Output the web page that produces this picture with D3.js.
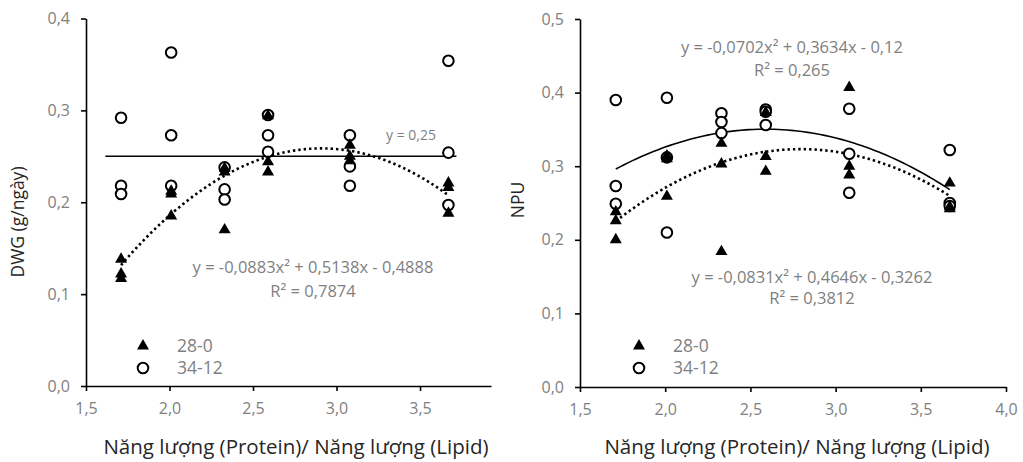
<!DOCTYPE html>
<html>
<head>
<meta charset="utf-8">
<script src="https://cdn.jsdelivr.net/npm/d3@7"></script>
<style>
  html, body { margin: 0; padding: 0; background: #fff; }
  svg { display: block; font-family: "Open Sans", Lato, sans-serif; }
</style>
</head>
<body>
<svg id="chart" width="1023" height="462"></svg>
<script>
// ---- data ----
const groups = [1.71, 2.01, 2.33, 2.59, 3.08, 3.67];   // Năng lượng (Protein)/ Năng lượng (Lipid)
const seriesNames = ["28-0", "34-12"];

// DWG (g/ngày), 3 replicates per group
const dwg28 = [[0.138, 0.122, 0.117], [0.212, 0.209, 0.185], [0.237, 0.233, 0.170],
               [0.294, 0.244, 0.233], [0.262, 0.250, 0.245], [0.221, 0.216, 0.188]];
const dwg34 = [[0.292, 0.218, 0.209], [0.363, 0.273, 0.218], [0.238, 0.214, 0.203],
               [0.295, 0.273, 0.255], [0.273, 0.239, 0.218], [0.354, 0.254, 0.197]];

// NPU
const npu28 = [[0.238, 0.226, 0.200], [0.314, 0.310, 0.259], [0.331, 0.303, 0.184],
               [0.373, 0.313, 0.293], [0.407, 0.300, 0.288], [0.277, 0.245, 0.242]];
const npu34 = [[0.390, 0.273, 0.249], [0.393, 0.312, 0.210], [0.372, 0.360, 0.345],
               [0.377, 0.374, 0.356], [0.378, 0.317, 0.264], [0.322, 0.250, 0.246]];

// trendlines (coefficients a,b,c of y = a x^2 + b x + c as printed on the chart)
const dwgFit28 = [-0.0883, 0.5138, -0.4888];
const dwgFit34 = [0, 0, 0.25];
const npuFit28 = [-0.0831, 0.4646, -0.3262];
const npuFit34 = [-0.0702, 0.3634, -0.12];

const dwgLabels = ["y = -0,0883x\u00b2 + 0,5138x - 0,4888", "R\u00b2 = 0,7874"];
const npuLabels28 = ["y = -0,0831x\u00b2 + 0,4646x - 0,3262", "R\u00b2 = 0,3812"];
const npuLabels34 = ["y = -0,0702x\u00b2 + 0,3634x - 0,12", "R\u00b2 = 0,265"];

const dwgTicks = [0, 0.1, 0.2, 0.3, 0.4];
const npuTicks = [0, 0.1, 0.2, 0.3, 0.4, 0.5];
const xTicksLeft = [1.5, 2.0, 2.5, 3.0, 3.5];
const xTicksRight = [1.5, 2.0, 2.5, 3.0, 3.5, 4.0];

const xTitle = "Năng lượng (Protein)/ Năng lượng (Lipid)";

// ---- helpers ----
const fmt = v => d3.format(".1f")(v).replace(".", ",");
const flat = arr => arr.flatMap((vals, i) => vals.map(v => ({ x: groups[i], y: v })));
const poly = c => x => c[0]*x*x + c[1]*x + c[2];
const triPath = a => { const h = Math.sqrt(3)/2*a; return `M0,${-2*h/3}L${-a/2},${h/3}L${a/2},${h/3}Z`; };

const svg = d3.select("#chart");

function panel(o) {
  const x = d3.scaleLinear().domain(o.xDomain).range(o.xRange);
  const y = d3.scaleLinear().domain(o.yDomain).range(o.yRange);
  const g = svg.append("g");

  // axes
  const ax = g.append("g").attr("transform", `translate(0,${o.yRange[0]})`)
    .call(d3.axisBottom(x).tickValues(o.xTicks).tickFormat(fmt).tickSize(5).tickSizeOuter(0).tickPadding(12));
  const ay = g.append("g").attr("transform", `translate(${o.xRange[0]},0)`)
    .call(d3.axisLeft(y).tickValues(o.yTicks).tickFormat(fmt).tickSize(5).tickSizeOuter(0).tickPadding(11));
  [ax, ay].forEach(a => {
    a.selectAll("path,line").attr("stroke", "#000").attr("stroke-width", 1.6);
    a.selectAll("text").attr("fill", "#7f7f7f").style("font-size", "16px").style("font-family", "'Open Sans'");
  });

  // axis titles
  g.append("text").attr("x", o.titleX).attr("y", 447).attr("dy", "0.35em")
    .attr("text-anchor", "middle").attr("fill", "#262626").style("font-size", "20.5px").text(xTitle);
  g.append("text").attr("transform", `translate(${o.yTitleX},${o.yTitleY}) rotate(-90)`).attr("dy", "0.35em")
    .attr("text-anchor", "middle").attr("fill", "#262626").style("font-size", "17.5px").text(o.yTitle);

  // trendlines
  const line = d3.line().x(d => x(d[0])).y(d => y(d[1]));
  o.fits.forEach(f => {
    const pts = d3.range(0, 81).map(i => { const xv = f.from + (f.to - f.from) * i / 80; return [xv, poly(f.c)(xv)]; });
    g.append("path").attr("d", line(pts)).attr("fill", "none").attr("stroke", "#000")
      .attr("stroke-width", f.dotted ? 2.6 : 1.6)
      .attr("stroke-dasharray", f.dotted ? "2.4,3" : null);
  });

  // points: circles (34-12) first, triangles (28-0) on top
  g.append("g").selectAll("circle").data(flat(o.s34)).join("circle")
    .attr("cx", d => x(d.x)).attr("cy", d => y(d.y)).attr("r", 5.3)
    .attr("fill", "#fff").attr("stroke", "#000").attr("stroke-width", 2);
  g.append("g").selectAll("path").data(flat(o.s28)).join("path")
    .attr("d", triPath(12)).attr("transform", d => `translate(${x(d.x)},${y(d.y)})`).attr("fill", "#000");

  // equation labels
  o.labels.forEach(l => {
    g.append("text").attr("x", l.x).attr("y", l.y).attr("dy", "0.35em").attr("text-anchor", "middle")
      .attr("fill", "#7f7f7f").style("font-size", (l.size || 16.5) + "px").text(l.t);
  });

  // legend
  const lg = g.append("g");
  lg.append("path").attr("d", triPath(12)).attr("transform", `translate(${o.legX},346)`).attr("fill", "#000");
  lg.append("circle").attr("cx", o.legX).attr("cy", 368).attr("r", 5.3)
    .attr("fill", "#fff").attr("stroke", "#000").attr("stroke-width", 2);
  seriesNames.forEach((n, i) => lg.append("text").attr("x", o.legX + 34).attr("y", 346 + i * 22).attr("dy", "0.35em")
    .attr("fill", "#7f7f7f").style("font-size", "17.5px").text(n));
}

panel({
  xDomain: [1.5, 3.925], xRange: [86, 491], yDomain: [0, 0.4], yRange: [386, 18.5],
  xTicks: xTicksLeft, yTicks: dwgTicks, titleX: 296, yTitle: "DWG (g/ngày)", yTitleX: 18, yTitleY: 222,
  s28: dwg28, s34: dwg34,
  fits: [{ c: dwgFit34, from: 1.616, to: 3.718, dotted: false }, { c: dwgFit28, from: 1.71, to: 3.67, dotted: true }],
  labels: [{ t: dwgLabels[0], x: 313, y: 267 }, { t: dwgLabels[1], x: 313, y: 291 }, { t: "y = 0,25", x: 411, y: 135, size: 14 }],
  legX: 143
});

panel({
  xDomain: [1.5, 4.0], xRange: [580, 1006], yDomain: [0, 0.5], yRange: [387, 19],
  xTicks: xTicksRight, yTicks: npuTicks, titleX: 797, yTitle: "NPU", yTitleX: 518, yTitleY: 200,
  s28: npu28, s34: npu34,
  fits: [{ c: npuFit34, from: 1.71, to: 3.67, dotted: false }, { c: npuFit28, from: 1.71, to: 3.67, dotted: true }],
  labels: [{ t: npuLabels34[0], x: 792, y: 47 }, { t: npuLabels34[1], x: 792, y: 70 },
           { t: npuLabels28[0], x: 812, y: 277 }, { t: npuLabels28[1], x: 812, y: 298 }],
  legX: 639
});
</script>
</body>
</html>
